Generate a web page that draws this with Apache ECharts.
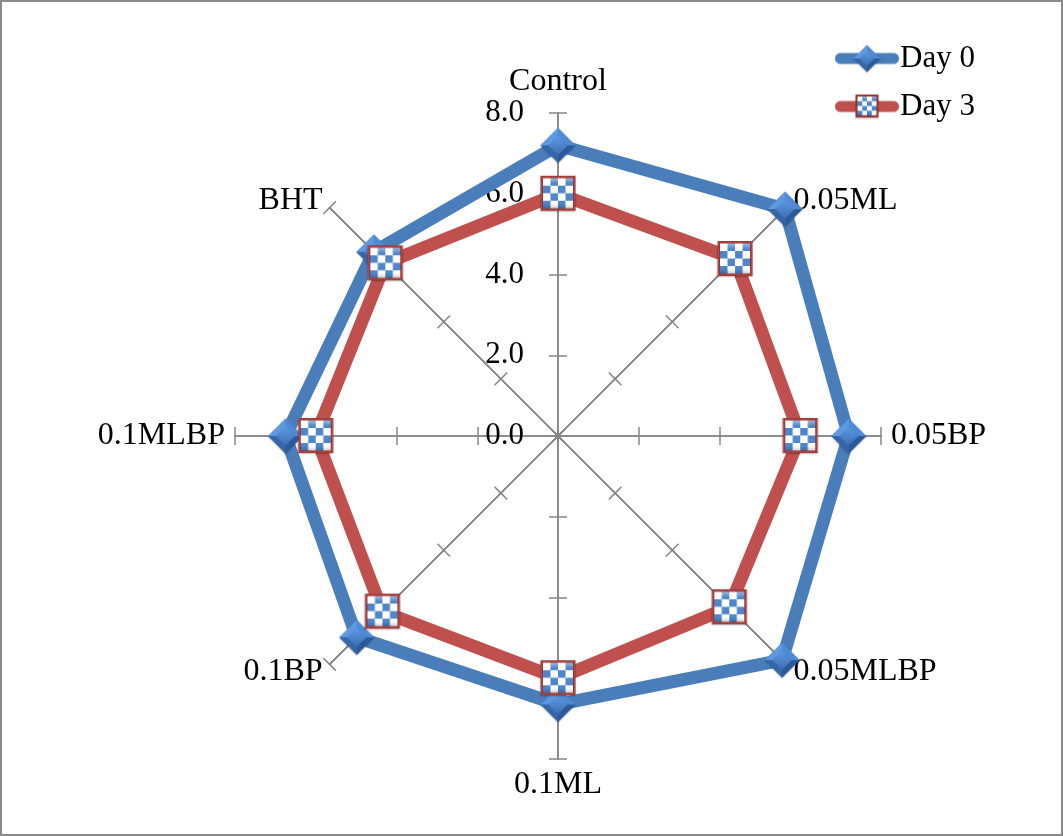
<!DOCTYPE html>
<html>
<head>
<meta charset="utf-8">
<script src="https://cdn.jsdelivr.net/npm/echarts@6/dist/echarts.min.js"></script>
<style>
  html, body { margin: 0; padding: 0; background: #fff; }
  #chart { position: absolute; left: 0; top: 0; width: 1063px; height: 836px; }
  #frame { position: absolute; left: 0; top: 0; width: 1059px; height: 832px; border: 2px solid #8a8a8a; pointer-events: none; }
</style>
</head>
<body>
<div id="chart"></div>
<div id="frame"></div>
<script>
// Treatments, listed clockwise starting from the top spoke
const categories = ['Control', '0.05ML', '0.05BP', '0.05MLBP', '0.1ML', '0.1BP', '0.1MLBP', 'BHT'];
const day0 = [7.2, 7.95, 7.2, 7.85, 6.65, 7.05, 6.75, 6.45];
const day3 = [6.0, 6.2, 6.0, 6.0, 6.0, 6.15, 6.0, 6.05];
const seriesNames = ['Day 0', 'Day 3'];
const axisMin = 0, axisMax = 8, axisStep = 2;

// ECharts lays radar indicators out counter-clockwise, so keep the first one
// on top and reverse the rest to get a clockwise reading order.
function ccw(arr) { return [arr[0]].concat(arr.slice(1).reverse()); }

const BLUE = '#4a7ebb';
const RED = '#c0504d';
const FONT = '"Liberation Serif", "Times New Roman", serif';

// Bevelled blue diamond marker
function diamondCanvas(size, withLine, lineH) {
  const s = 2;
  const w = withLine ? withLine : size;
  const c = document.createElement('canvas');
  c.width = w * s; c.height = size * s;
  const g = c.getContext('2d');
  g.scale(s, s);
  if (withLine) {
    g.strokeStyle = BLUE; g.lineWidth = lineH; g.lineCap = 'round';
    g.beginPath(); g.moveTo(lineH / 2, size / 2); g.lineTo(w - lineH / 2, size / 2); g.stroke();
  }
  const cx = w / 2, cy = size / 2, r = size / 2 - 1.5;
  g.save();
  g.shadowColor = 'rgba(0,0,0,0.35)'; g.shadowBlur = 3; g.shadowOffsetY = 1.5;
  g.beginPath();
  g.moveTo(cx, cy - r); g.lineTo(cx + r, cy); g.lineTo(cx, cy + r); g.lineTo(cx - r, cy); g.closePath();
  g.fillStyle = '#3f74b8'; g.fill();
  g.restore();
  // facets
  const ri = r * 0.55;
  function poly(pts, col) {
    g.beginPath(); g.moveTo(pts[0][0], pts[0][1]);
    for (let i = 1; i < pts.length; i++) g.lineTo(pts[i][0], pts[i][1]);
    g.closePath(); g.fillStyle = col; g.fill();
  }
  poly([[cx, cy - r], [cx + r, cy], [cx + ri, cy], [cx, cy - ri]], '#4f8ad6');
  poly([[cx, cy - r], [cx - r, cy], [cx - ri, cy], [cx, cy - ri]], '#5d98e2');
  poly([[cx - r, cy], [cx, cy + r], [cx, cy + ri], [cx - ri, cy]], '#3566a8');
  poly([[cx + r, cy], [cx, cy + r], [cx, cy + ri], [cx + ri, cy]], '#2c5a98');
  const grad = g.createLinearGradient(0, cy - ri, 0, cy + ri);
  grad.addColorStop(0, '#5f9ae3'); grad.addColorStop(1, '#3b6fb3');
  poly([[cx, cy - ri], [cx + ri, cy], [cx, cy + ri], [cx - ri, cy]], grad);
  return c;
}

// Red-framed chequered square marker
function squareCanvas(size, withLine, lineH) {
  const s = 2;
  const w = withLine ? withLine : size;
  const c = document.createElement('canvas');
  c.width = w * s; c.height = size * s;
  const g = c.getContext('2d');
  g.scale(s, s);
  if (withLine) {
    g.strokeStyle = RED; g.lineWidth = lineH; g.lineCap = 'round';
    g.beginPath(); g.moveTo(lineH / 2, size / 2); g.lineTo(w - lineH / 2, size / 2); g.stroke();
  }
  const side = size - 3;
  const x0 = (w - side) / 2, y0 = (size - side) / 2 - 0.5;
  g.save();
  g.shadowColor = 'rgba(0,0,0,0.35)'; g.shadowBlur = 3; g.shadowOffsetY = 1.5;
  g.fillStyle = '#a33b39';
  g.fillRect(x0, y0, side, side);
  g.restore();
  g.fillStyle = '#cd5a57';
  g.fillRect(x0 + 1, y0 + 1, side - 2, side - 2);
  const bw = Math.max(2, side * 0.07);
  const ix = x0 + bw, iy = y0 + bw, iw = side - 2 * bw;
  g.fillStyle = '#ffffff';
  g.fillRect(ix, iy, iw, iw);
  const n = 4, cs = iw / n;
  for (let r = 0; r < n; r++) {
    for (let q = 0; q < n; q++) {
      if ((r + q) % 2 === 1) {
        g.fillStyle = '#4f85c9';
        g.fillRect(ix + q * cs, iy + r * cs, cs, cs);
      }
    }
  }
  // soft bevel highlight on top, shade at bottom
  const hl = g.createLinearGradient(0, iy, 0, iy + iw);
  hl.addColorStop(0, 'rgba(255,255,255,0.45)');
  hl.addColorStop(0.18, 'rgba(255,255,255,0.0)');
  hl.addColorStop(0.85, 'rgba(0,0,0,0.0)');
  hl.addColorStop(1, 'rgba(0,0,0,0.18)');
  g.fillStyle = hl;
  g.fillRect(ix, iy, iw, iw);
  g.strokeStyle = '#8e302e'; g.lineWidth = 1;
  g.strokeRect(ix - 0.5, iy - 0.5, iw + 1, iw + 1);
  return c;
}

const symDiamond = 'image://' + diamondCanvas(38).toDataURL();
const symSquare = 'image://' + squareCanvas(38).toDataURL();
const legDiamond = 'image://' + diamondCanvas(30, 64, 11).toDataURL();
const legSquare = 'image://' + squareCanvas(26, 64, 11).toDataURL();

const indicatorNames = ccw(categories);
const indicators = indicatorNames.map((name, i) => {
  const ind = { name: name, min: axisMin, max: axisMax };
  if (i === 0) {
    ind.axisLabel = {
      show: true,
      color: '#000',
      fontFamily: FONT,
      fontSize: 31,
      margin: 34,
      formatter: v => Number(v).toFixed(1)
    };
  }
  return ind;
});
const plainIndicators = indicatorNames.map(name => ({ name: name, min: axisMin, max: axisMax }));

const spokeStyle = { color: '#868686', width: 1.5 };
const center = [558, 436];
const radius = 323;

const chart = echarts.init(document.getElementById('chart'), null, { renderer: 'canvas' });
chart.setOption({
  backgroundColor: '#ffffff',
  animation: false,
  legend: {
    orient: 'vertical',
    left: 830,
    top: 38,
    itemWidth: 64,
    itemHeight: 30,
    itemGap: 17,
    textStyle: { color: '#000', fontFamily: FONT, fontSize: 31, padding: [0, 0, 0, -4] },
    data: [
      { name: seriesNames[0], icon: legDiamond },
      { name: seriesNames[1], icon: legSquare }
    ]
  },
  radar: [
    {
      center: center,
      radius: radius,
      startAngle: 90,
      splitNumber: (axisMax - axisMin) / axisStep,
      shape: 'polygon',
      indicator: indicators,
      axisName: { color: '#000', fontFamily: FONT, fontSize: 32 },
      nameGap: 10,
      axisLine: { show: true, lineStyle: spokeStyle },
      axisTick: { show: true, length: 9, lineStyle: spokeStyle },
      axisLabel: { show: false },
      splitLine: { show: false },
      splitArea: { show: false }
    },
    {
      // second copy of the spokes carries the tick halves on the other side
      center: center,
      radius: radius,
      startAngle: 90,
      splitNumber: (axisMax - axisMin) / axisStep,
      shape: 'polygon',
      indicator: plainIndicators,
      axisName: { show: false },
      axisLine: { show: true, lineStyle: spokeStyle },
      axisTick: { show: true, length: -9, lineStyle: spokeStyle },
      axisLabel: { show: false },
      splitLine: { show: false },
      splitArea: { show: false }
    }
  ],
  series: [
    {
      type: 'radar',
      radarIndex: 0,
      z: 3,
      data: [
        {
          name: seriesNames[0],
          value: ccw(day0),
          symbol: symDiamond,
          symbolSize: 38,
          lineStyle: { color: BLUE, width: 13, join: 'round' },
          itemStyle: { color: BLUE }
        }
      ]
    },
    {
      type: 'radar',
      radarIndex: 0,
      z: 4,
      data: [
        {
          name: seriesNames[1],
          value: ccw(day3),
          symbol: symSquare,
          symbolSize: 38,
          lineStyle: { color: RED, width: 13, join: 'round' },
          itemStyle: { color: RED }
        }
      ]
    }
  ]
});
</script>
</body>
</html>
